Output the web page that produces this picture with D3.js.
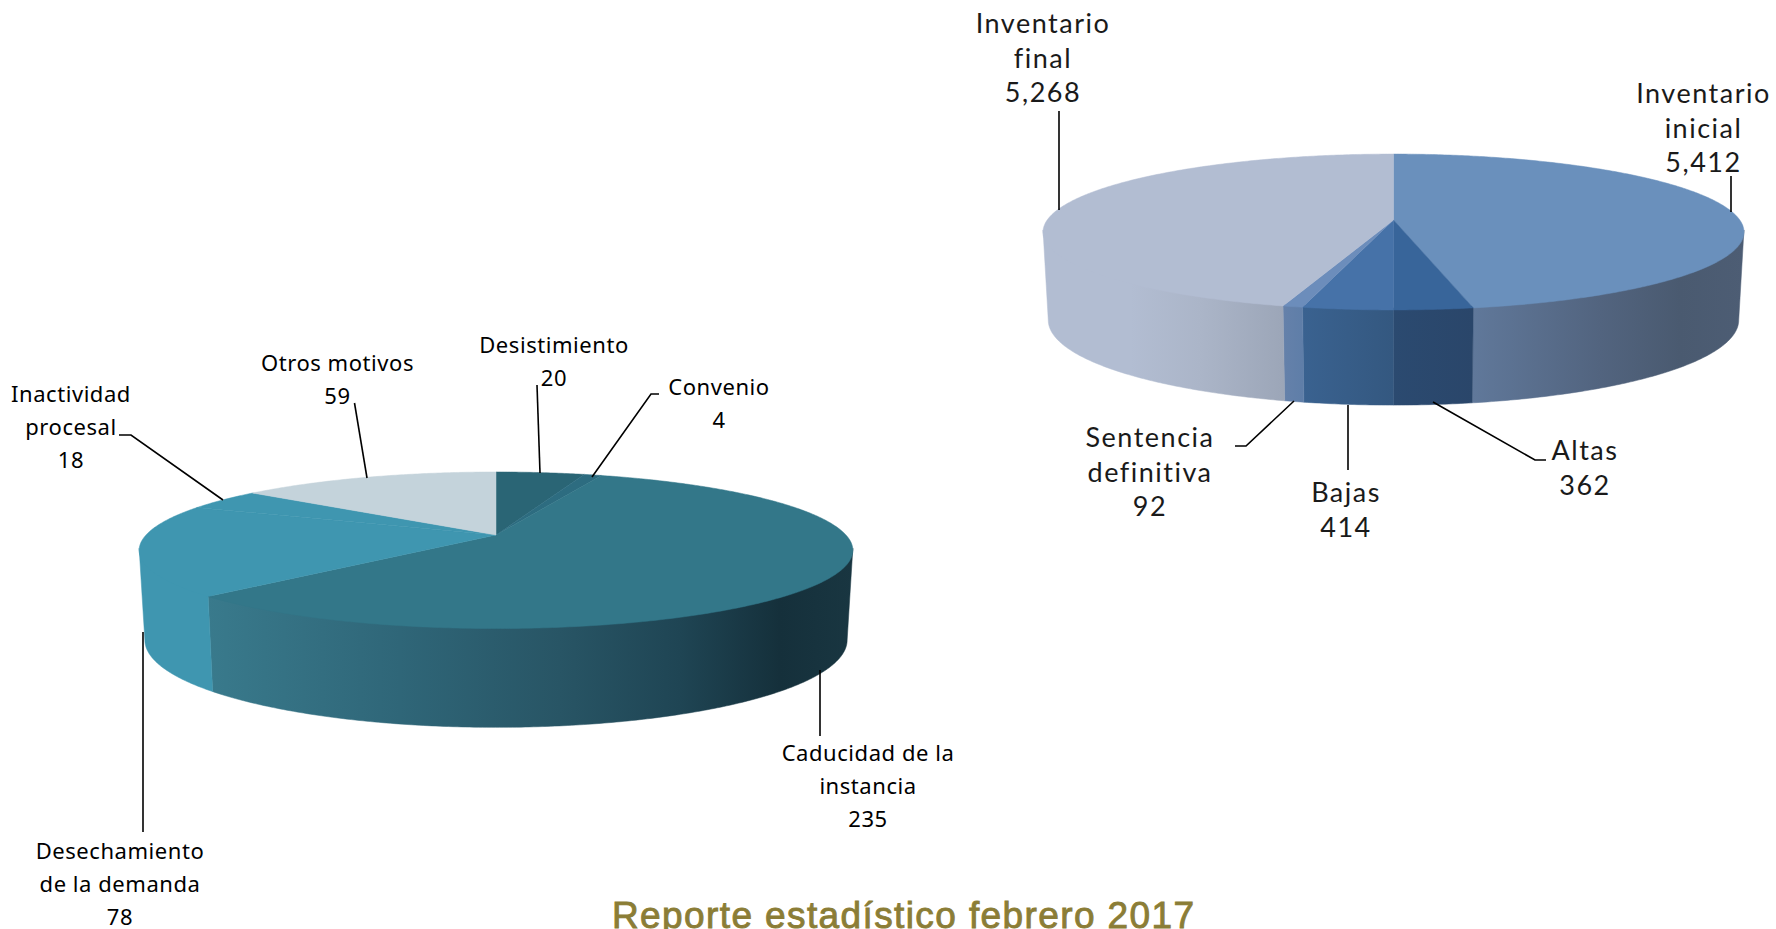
<!DOCTYPE html>
<html>
<head>
<meta charset="utf-8">
<script src="https://cdn.jsdelivr.net/npm/d3@7"></script>
<style>
  html, body { margin: 0; padding: 0; background: #fff; overflow: hidden; }
  svg { display: block; }
</style>
</head>
<body>
<svg id="chart" width="1776" height="929"></svg>
<script>
// values
const motivosNames = [["Desistimiento"], ["Convenio"], ["Caducidad de la", "instancia"], ["Desechamiento", "de la demanda"], ["Inactividad", "procesal"], ["Otros motivos"]];
const motivosValues = [20, 4, 235, 78, 18, 59];

const inventarioNames = [["Inventario", "inicial"], ["Altas"], ["Bajas"], ["Sentencia", "definitiva"], ["Inventario", "final"]];
const inventarioValues = [5412, 362, 414, 92, 5268];

const titleText = "Reporte estadístico febrero 2017";

// colours
const motivosTop = ["#2a6575", "#2d6c80", "#337789", "#3f96b0", "#3f96b0", "#c4d3db"];
const motivosWall = [
    ["#2a6575"], ["#2d6c80"],
    [[207, "#397a8c"], [400, "#2f6678"], [560, "#285565"], [680, "#1f4554"], [780, "#15303b"], [853, "#193641"]],
    ["#3f96b0"], ["#3f96b0"], ["#c4d3db"]
];
const inventarioTop = ["#6a90bc", "#38659a", "#4672a8", "#6c8dbb", "#b2bdd2"];
const inventarioWall = [
    [[1473, "#60789a"], [1600, "#52647f"], [1680, "#4a5a70"], [1744, "#4d5d74"]],
    [[1393, "#2b4a70"], [1473, "#2a466a"]],
    [[1302, "#3a6290"], [1393, "#345880"]],
    [[1283, "#6581aa"], [1302, "#5f7ea8"]],
    [[1043, "#b2bdd2"], [1130, "#b2bdd2"], [1200, "#abb5c8"], [1283, "#9ca6b8"]]
];

// layout of each pie: a is the half width, ya the apex height, b the vertical scale, p the perspective
const motivosGeom = {cx: 496, a: 350, ya: 535, b: 75.3, p: 0.195, yb: 623, bb: 84, shrink: 0.984};
const inventarioGeom = {cx: 1393.5, a: 346.3, ya: 220, b: 76.1, p: 0.154, yb: 307, bb: 83, shrink: 0.985};

const motivosLabels = [
    {x: 554, y: 344, leader: [[537, 385], [540, 473]]},
    {x: 719, y: 386, leader: [[659, 394], [651, 394], [592, 477]]},
    {x: 868, y: 752, leader: [[820, 736], [820, 670]]},
    {x: 120, y: 850, leader: [[143, 832], [143, 632]]},
    {x: 71, y: 393, leader: [[119, 435], [131, 435], [223, 500]]},
    {x: 337.5, y: 362, leader: [[354.5, 403], [367, 478]]}
];
const inventarioLabels = [
    {x: 1703.5, y: 92, leader: [[1731, 176], [1731, 212]]},
    {x: 1585, y: 449, leader: [[1546, 460], [1535, 460], [1433, 402]]},
    {x: 1346, y: 491, leader: [[1348, 470], [1348, 405]]},
    {x: 1150, y: 436, leader: [[1235, 446], [1246, 446], [1294, 401]]},
    {x: 1043, y: 22, leader: [[1059, 111], [1059, 210]]}
];

const svg = d3.select("#chart");
const defs = svg.append("defs");
const pie = d3.pie().sort(null).value(d => d);
const line = d3.line();

// perspective projection of a point of the disc; angle is clockwise from the back
function project(g, angle, bottom) {
    const u = Math.sin(angle), v = -Math.cos(angle);
    const w = 1 - g.p * v;
    const scale = bottom ? g.shrink : 1;
    return [
        g.cx + g.a * scale * u / w,
        (bottom ? g.yb : g.ya) + (bottom ? g.bb : g.b) * v / w
    ];
}

function rim(g, a0, a1, bottom) {
    const steps = Math.max(2, Math.ceil((a1 - a0) / 0.01));
    return d3.range(steps + 1).map(i => project(g, a0 + (a1 - a0) * i / steps, bottom));
}

function drawPie(name, g, values, topColors, wallColors, names, labels, textStyle) {
    const root = svg.append("g").attr("class", name);
    const arcs = pie(values);

    // the side wall only shows between the two widest points of the disc
    const wallStart = Math.acos(-g.p);
    const wallEnd = 2 * Math.PI - wallStart;

    arcs.forEach((d, i) => {
        const a0 = Math.max(d.startAngle, wallStart);
        const a1 = Math.min(d.endAngle, wallEnd);
        if (a1 <= a0) return;
        const stops = wallColors[i];
        let fill = stops[0];
        if (stops.length > 1) {
            const id = `${name}-wall-${i}`;
            const grad = defs.append("linearGradient")
                .attr("id", id)
                .attr("gradientUnits", "userSpaceOnUse")
                .attr("x1", stops[0][0]).attr("x2", stops[stops.length - 1][0])
                .attr("y1", 0).attr("y2", 0);
            const offset = d3.scaleLinear().domain([stops[0][0], stops[stops.length - 1][0]]).range([0, 1]);
            grad.selectAll("stop").data(stops).join("stop")
                .attr("offset", s => offset(s[0]))
                .attr("stop-color", s => s[1]);
            fill = `url(#${id})`;
        }
        // run the wall a little under the top so no light seam shows along the rim
        const upper = rim(g, a0, a1, false).map(([x, y]) => [x, y - 2]);
        const pts = upper.concat(rim(g, a0, a1, true).reverse());
        root.append("path")
            .attr("d", line(pts) + "Z")
            .attr("fill", fill)
            .attr("stroke", fill)
            .attr("stroke-width", 0.5);
    });

    arcs.forEach((d, i) => {
        const pts = [[g.cx, g.ya]].concat(rim(g, d.startAngle, d.endAngle, false));
        root.append("path")
            .attr("d", line(pts) + "Z")
            .attr("fill", topColors[i])
            .attr("stroke", topColors[i])
            .attr("stroke-width", 0.5);
    });

    const fmt = d3.format(",d");
    labels.forEach((l, i) => {
        root.append("path")
            .attr("d", line(l.leader))
            .attr("fill", "none")
            .attr("stroke", "#000")
            .attr("stroke-width", 1.6);
        const text = root.append("text")
            .attr("text-anchor", "middle")
            .attr("dominant-baseline", "central")
            .attr("fill", textStyle.color)
            .style("font-family", textStyle.family)
            .style("font-size", textStyle.size + "px")
            .style("font-weight", textStyle.weight)
            .style("letter-spacing", textStyle.spacing + "px");
        names[i].concat(fmt(values[i])).forEach((s, k) => {
            text.append("tspan")
                .attr("x", l.x)
                .attr("y", l.y + k * textStyle.lead)
                .text(s);
        });
    });
}

drawPie("motivos", motivosGeom, motivosValues, motivosTop, motivosWall, motivosNames, motivosLabels,
    {family: "'Noto Sans', sans-serif", size: 22, weight: 400, spacing: 0.55, lead: 33, color: "#000"});
drawPie("inventario", inventarioGeom, inventarioValues, inventarioTop, inventarioWall, inventarioNames, inventarioLabels,
    {family: "Lato, sans-serif", size: 27, weight: 400, spacing: 1.5, lead: 34.5, color: "#1a1a1a"});

svg.append("text")
    .attr("x", 903)
    .attr("y", 928)
    .attr("text-anchor", "middle")
    .attr("fill", "#8b7d36")
    .attr("stroke", "#8b7d36")
    .attr("stroke-width", 0.9)
    .attr("textLength", 582)
    .style("font-family", "'Liberation Sans', sans-serif")
    .style("font-size", "37px")
    .style("font-weight", 400)
    .text(titleText);
</script>
</body>
</html>
